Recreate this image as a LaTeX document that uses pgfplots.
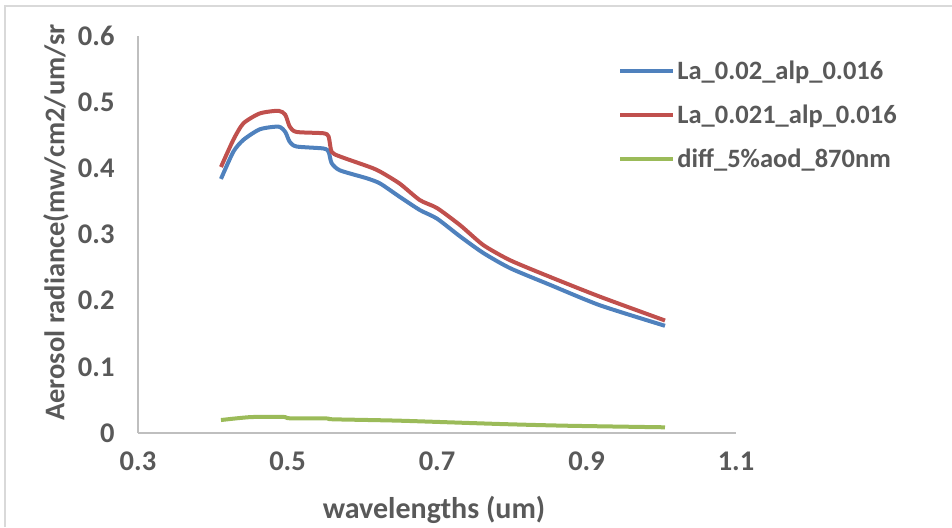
\documentclass[border=0pt]{standalone}
\usepackage{fontspec}
\setmainfont{Carlito}
\usepackage{pgfplots}
\pgfplotsset{compat=1.18}
\definecolor{txt}{HTML}{595959}
\definecolor{axln}{HTML}{BFBFBF}
\definecolor{frm}{HTML}{D9D9D9}
\definecolor{cblue}{HTML}{4F81BD}
\definecolor{cred}{HTML}{C0504D}
\definecolor{cgreen}{HTML}{9BBB59}
\begin{document}
\begin{tikzpicture}[x=1pt,y=1pt]
\path[use as bounding box] (0,0) rectangle (952,527);
\draw[frm, line width=2pt] (5,0) -- (5,521) -- (952,521);
\begin{axis}[
    at={(138pt,94pt)}, anchor=south west,
    scale only axis, width=598pt, height=397pt,
    xmin=0.3, xmax=1.1, ymin=0, ymax=0.6,
    xtick={0.3,0.5,0.7,0.9,1.1},
    ytick={0,0.1,0.2,0.3,0.4,0.5,0.6},
    xticklabels={0.3,0.5,0.7,0.9,1.1},
    yticklabels={0,0.1,0.2,0.3,0.4,0.5,0.6},
    axis x line*=bottom, axis y line*=left,
    axis line style={axln, line width=1.2pt, -},
    major tick length=0pt,
    tick label style={font=\fontsize{28.5}{32}\selectfont\bfseries, text=txt},
    yticklabel style={xshift=-20pt},
    xticklabel style={yshift=-15pt},
    xlabel={wavelengths (um)},
    ylabel={Aerosol radiance(mw/cm2/um/sr},
    label style={font=\fontsize{30}{34}\selectfont\bfseries, text=txt},
    xlabel style={at={(axis description cs:0.495,-0.194)}, anchor=center},
    ylabel style={at={(axis description cs:-0.137,0.53)}, anchor=center,
        font=\fontsize{28.5}{32}\selectfont\bfseries},
    legend image code/.code={\draw[#1] (0pt,0pt) -- (53pt,0pt);},
    legend style={at={(rel axis cs:0.803,0.943)}, anchor=north west, draw=none, fill=none,
        font=\fontsize{26.5}{30}\selectfont\bfseries, text=txt,
        row sep=20pt, inner sep=0pt},
    legend cell align=left,
]
\addplot[cblue, line width=4pt, smooth, tension=0.4] coordinates {
(0.411,0.384)(0.4275,0.425)(0.441,0.443)(0.463,0.459)(0.488,0.463)(0.497,0.455)
(0.503,0.440)(0.512,0.433)(0.548,0.430)(0.555,0.425)(0.559,0.408)(0.570,0.397)
(0.606,0.385)(0.624,0.377)(0.650,0.357)(0.677,0.337)(0.700,0.324)(0.731,0.297)
(0.762,0.272)(0.798,0.249)(0.851,0.224)(0.918,0.193)(1.005,0.162)
};
\addplot[cred, line width=4pt, smooth, tension=0.4] coordinates {
(0.411,0.402)(0.4275,0.443)(0.441,0.468)(0.463,0.483)(0.488,0.487)(0.497,0.481)
(0.503,0.463)(0.512,0.455)(0.548,0.453)(0.555,0.448)(0.559,0.425)(0.570,0.418)
(0.610,0.402)(0.624,0.395)(0.650,0.377)(0.677,0.352)(0.700,0.340)(0.731,0.314)
(0.762,0.284)(0.798,0.261)(0.851,0.236)(0.918,0.206)(1.005,0.170)
};
\addplot[cgreen, line width=4pt, smooth, tension=0.4] coordinates {
(0.411,0.0196)(0.45,0.0240)(0.494,0.0244)(0.503,0.0222)(0.552,0.0220)(0.561,0.0207)
(0.65,0.0186)(0.784,0.0136)(0.873,0.0110)(1.005,0.0086)
};
\legend{La\_0.02\_alp\_0.016, La\_0.021\_alp\_0.016, diff\_5\%aod\_870nm}
\end{axis}
\end{tikzpicture}
\end{document}
